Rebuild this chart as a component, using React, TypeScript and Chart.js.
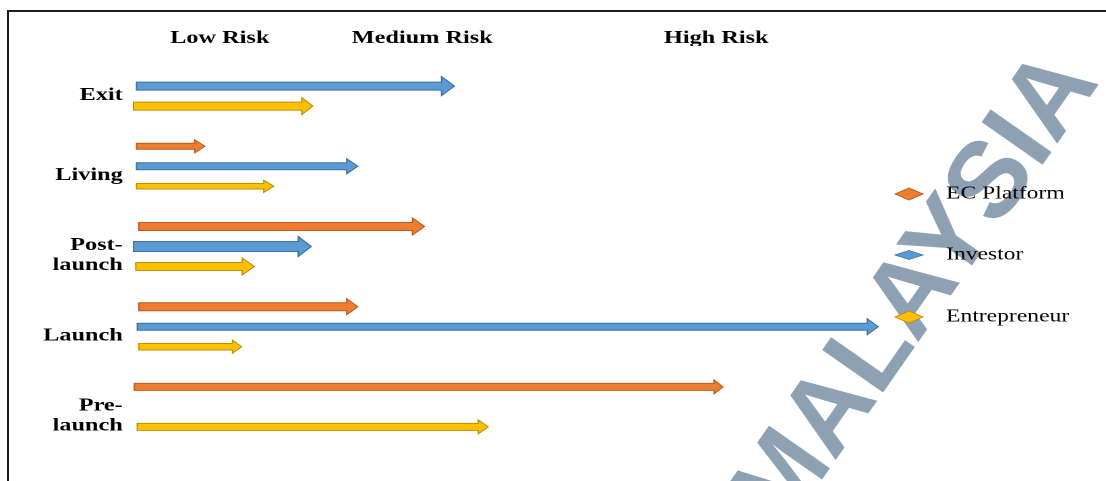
import React, { useEffect, useRef } from 'react';
import { Chart, registerables } from 'chart.js';

Chart.register(...registerables);

// ---------- data ----------
const categories: (string | string[])[] = ['Exit', 'Living', ['Post-', 'launch'], 'Launch', ['Pre-', 'launch']];
const seriesNames = ['EC Platform', 'Investor', 'Entrepreneur'];
const ecPlatformStart = [null, 0.4, 0.7, 0.7, 0.1];
const ecPlatformEnd = [null, 9.5, 38.8, 29.9, 78.6];
const investorStart = [0.4, 0.4, 0, 0.5, null];
const investorEnd = [42.8, 29.9, 23.7, 99.3, null];
const entrepreneurStart = [0, 0.4, 0.3, 0.7, 0.5];
const entrepreneurEnd = [23.9, 18.7, 16.1, 14.4, 47.3];
const riskTickValues = [11.5, 38.5, 77.7];
const riskLabels = ['Low Risk', 'Medium Risk', 'High Risk'];

// ---------- styles ----------
const seriesFill = ['#ED7D31', '#5B9BD5', '#FFC000'];
const seriesStroke = ['#BE5A1E', '#41719C', '#BF9000'];
// [body thickness, head height, head length] in screen px, per series per category
const arrowSizes: (number[] | null)[][] = [
  [null, [6, 13, 10], [8, 17, 12], [8, 16, 11], [7, 14, 9]],
  [[8, 19, 13], [7, 15, 11], [10, 20, 13], [7, 16, 11], null],
  [[8, 17, 11], [5.5, 12, 10], [8, 17, 12], [6.5, 13, 9], [7, 14, 10]],
];
const legendMarkerH = [12, 9, 12];

const CANVAS_W = 820;
const SCREEN_W = 1106;
const H = 481;
const S = SCREEN_W / CANVAS_W; // horizontal stretch of the original figure

const serif = '"Liberation Serif", "Times New Roman", serif';

function pair(start: (number | null)[], end: (number | null)[]) {
  return start.map((s, i) => (s == null || end[i] == null ? null : [s, end[i] as number]));
}

const arrowPlugin = {
  id: 'arrows',
  afterDatasetsDraw(chart: any) {
    const ctx = chart.ctx;
    chart.data.datasets.forEach((ds: any, i: number) => {
      const meta = chart.getDatasetMeta(i);
      meta.data.forEach((el: any, j: number) => {
        if (ds.data[j] == null) return;
        const sz = arrowSizes[i][j];
        if (!sz) return;
        const [t, hh, hlScreen] = sz;
        const hl = hlScreen / S;
        const x0 = Math.min(el.base, el.x);
        const x1 = Math.max(el.base, el.x);
        const y = el.y;
        ctx.save();
        ctx.beginPath();
        ctx.moveTo(x0, y - t / 2);
        ctx.lineTo(x1 - hl, y - t / 2);
        ctx.lineTo(x1 - hl, y - hh / 2);
        ctx.lineTo(x1, y);
        ctx.lineTo(x1 - hl, y + hh / 2);
        ctx.lineTo(x1 - hl, y + t / 2);
        ctx.lineTo(x0, y + t / 2);
        ctx.closePath();
        ctx.fillStyle = seriesFill[i];
        ctx.fill();
        ctx.lineWidth = 1;
        ctx.strokeStyle = seriesStroke[i];
        ctx.lineJoin = 'miter';
        ctx.stroke();
        ctx.restore();
      });
    });
  },
};

const watermarkPlugin = {
  id: 'watermark',
  beforeDraw(chart: any) {
    const ctx = chart.ctx;
    ctx.save();
    ctx.scale(1 / S, 1);
    ctx.translate(917, 292);
    ctx.rotate((-55 * Math.PI) / 180);
    ctx.font = `bold 108px "Liberation Sans", Arial, sans-serif`;
    ctx.fillStyle = 'rgba(122,144,165,0.85)';
    ctx.textAlign = 'center';
    ctx.textBaseline = 'middle';
    ctx.fillText('MALAYSIA', 0, 0);
    ctx.restore();
  },
};

const legendPlugin = {
  id: 'sideLegend',
  afterDraw(chart: any) {
    const ctx = chart.ctx;
    const ys = [194, 255, 317];
    const mx = 909 / S;
    const tx = 946 / S;
    const mw = 28 / S;
    chart.data.datasets.forEach((ds: any, i: number) => {
      const y = ys[i];
      const mh = legendMarkerH[i];
      ctx.save();
      ctx.beginPath();
      ctx.moveTo(mx - mw / 2, y);
      ctx.lineTo(mx, y - mh / 2);
      ctx.lineTo(mx + mw / 2, y);
      ctx.lineTo(mx, y + mh / 2);
      ctx.closePath();
      ctx.fillStyle = seriesFill[i];
      ctx.fill();
      ctx.lineWidth = 0.8;
      ctx.strokeStyle = seriesStroke[i];
      ctx.stroke();
      ctx.fillStyle = '#000';
      ctx.font = `17.5px ${serif}`;
      ctx.textAlign = 'left';
      ctx.textBaseline = 'middle';
      ctx.fillText(ds.label, tx, y);
      ctx.restore();
    });
  },
};

export default function App() {
  const ref = useRef<HTMLCanvasElement>(null);

  useEffect(() => {
    const canvas = ref.current;
    if (!canvas) return;
    const chart = new Chart(canvas, {
      type: 'bar',
      data: {
        labels: categories as any,
        datasets: [
          { label: seriesNames[0], data: pair(ecPlatformStart, ecPlatformEnd) as any },
          { label: seriesNames[1], data: pair(investorStart, investorEnd) as any },
          { label: seriesNames[2], data: pair(entrepreneurStart, entrepreneurEnd) as any },
        ].map((d) => ({
          ...d,
          backgroundColor: 'rgba(0,0,0,0)',
          borderWidth: 0,
          barThickness: 20,
          grouped: true,
        })),
      },
      options: {
        indexAxis: 'y',
        responsive: false,
        animation: false,
        devicePixelRatio: 2,
        layout: { padding: { left: 0, right: CANVAS_W - 655, top: 0, bottom: H - 447 } },
        plugins: {
          legend: { display: false },
          tooltip: { enabled: false },
        },
        scales: {
          x: {
            type: 'linear',
            position: 'top',
            min: 0,
            max: 100,
            grid: { display: false, drawTicks: false },
            border: { display: false },
            afterBuildTicks: (scale: any) => {
              scale.ticks = riskTickValues.map((v) => ({ value: v }));
            },
            afterFit: (scale: any) => {
              scale.height = 46;
            },
            ticks: {
              autoSkip: false,
              maxRotation: 0,
              padding: -3,
              color: '#000',
              font: { family: serif, size: 18, weight: 'bold', lineHeight: 1.2 },
              callback: (_v: any, i: number) => riskLabels[i],
            },
          },
          y: {
            type: 'category',
            grid: { display: false, drawTicks: false },
            border: { display: false },
            afterFit: (scale: any) => {
              scale.width = 99;
            },
            ticks: {
              padding: 8,
              labelOffset: 9,
              color: '#000',
              font: { family: serif, size: 18, weight: 'bold', lineHeight: 1.12 },
            },
          },
        },
      } as any,
      plugins: [watermarkPlugin, arrowPlugin, legendPlugin],
    });
    return () => chart.destroy();
  }, []);

  return (
    <div
      style={{
        position: 'fixed',
        left: 0,
        top: 0,
        width: SCREEN_W,
        height: H,
        background: '#fff',
        overflow: 'hidden',
      }}
    >
      <div
        style={{
          position: 'absolute',
          left: 7,
          top: 10,
          width: 1120,
          height: 500,
          borderLeft: '2px solid #1c1c1c',
          borderTop: '2px solid #1c1c1c',
        }}
      />
      <canvas
        ref={ref}
        width={CANVAS_W}
        height={H}
        style={{ position: 'absolute', left: 0, top: 0, width: SCREEN_W + 'px', height: H + 'px' }}
      />
    </div>
  );
}
